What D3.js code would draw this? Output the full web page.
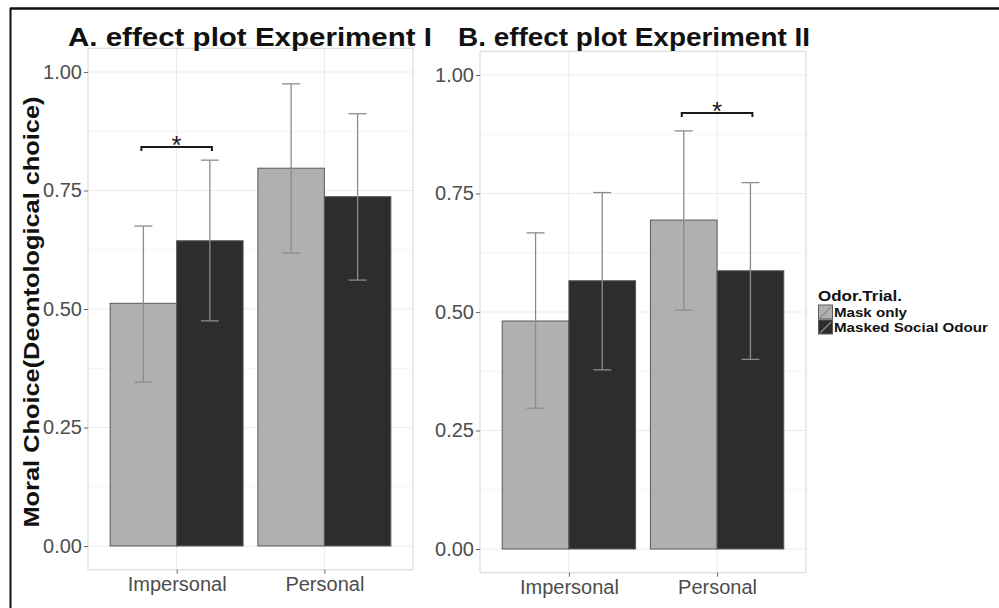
<!doctype html>
<html>
<head>
	<meta charset="utf-8">
	<script src="https://d3js.org/d3.v7.min.js"></script>
	<style>
		body { margin: 0; background: #fff; }
		text { font-family: "Liberation Sans", Arial, Helvetica, sans-serif; }
	</style>
</head>
<body>
	<div id="chart"></div>
	<script>
		// categories and series
		const categories = ["Impersonal", "Personal"];
		const series = ["Mask only", "Masked Social Odour"];
		const seriesFill = ["#b0b0b0", "#2d2d2d"];
		const yTicks = [0, 0.25, 0.5, 0.75, 1];
		const yMinor = [0.125, 0.375, 0.625, 0.875];

		// Experiment I (means, lower, upper)
		const exp1MaskOnly = [0.512, 0.797];
		const exp1MaskOnlyLo = [0.346, 0.618];
		const exp1MaskOnlyHi = [0.675, 0.975];
		const exp1Social = [0.644, 0.737];
		const exp1SocialLo = [0.475, 0.561];
		const exp1SocialHi = [0.814, 0.912];

		// Experiment II
		const exp2MaskOnly = [0.481, 0.694];
		const exp2MaskOnlyLo = [0.297, 0.504];
		const exp2MaskOnlyHi = [0.667, 0.882];
		const exp2Social = [0.566, 0.587];
		const exp2SocialLo = [0.378, 0.400];
		const exp2SocialHi = [0.752, 0.773];

		// significance brackets: category, height
		const exp1Sig = ["Impersonal", 0.842];
		const exp2Sig = ["Personal", 0.920];

		const width = 999, height = 608;
		const svg = d3.select("#chart").append("svg")
			.attr("width", width)
			.attr("height", height);

		// outer frame (top and left only visible)
		svg.append("line").attr("x1", 10).attr("x2", width).attr("y1", 8.5).attr("y2", 8.5)
			.attr("stroke", "#111").attr("stroke-width", 2.5);
		svg.append("line").attr("x1", 10.5).attr("x2", 10.5).attr("y1", 8).attr("y2", height)
			.attr("stroke", "#111").attr("stroke-width", 2);

		function toRows(means, lo, hi) {
			return categories.map((c, i) => ({ cat: c, mean: means[i], lo: lo[i], hi: hi[i] }));
		}

		function drawPanel(opt) {
			const g = svg.append("g");
			const y = d3.scaleLinear().domain([-0.05, 1.05]).range([opt.y0 + 0.05 * opt.unit, opt.y0 - 1.05 * opt.unit]);
			const x = d3.scalePoint().domain(categories).range([opt.left, opt.right]).padding(0.6);
			const step = x.step();
			const sub = d3.scaleBand().domain(series).range([-0.45 * step, 0.45 * step]);
			const top = y(1.05), bottom = y(-0.05);

			// grid
			g.selectAll(".minor").data(yMinor).join("line")
				.attr("x1", opt.left).attr("x2", opt.right)
				.attr("y1", d => y(d)).attr("y2", d => y(d))
				.attr("stroke", "#f4f4f4").attr("stroke-width", 1);
			g.selectAll(".major").data(yTicks).join("line")
				.attr("x1", opt.left).attr("x2", opt.right)
				.attr("y1", d => y(d)).attr("y2", d => y(d))
				.attr("stroke", "#ebebeb").attr("stroke-width", 1);
			g.selectAll(".vgrid").data(categories).join("line")
				.attr("x1", d => x(d)).attr("x2", d => x(d))
				.attr("y1", top).attr("y2", bottom)
				.attr("stroke", "#ebebeb").attr("stroke-width", 1);

			// bars
			opt.data.forEach((rows, si) => {
				g.selectAll(".bar" + si).data(rows).join("rect")
					.attr("x", d => x(d.cat) + sub(series[si]))
					.attr("width", sub.bandwidth())
					.attr("y", d => y(d.mean))
					.attr("height", d => y(0) - y(d.mean))
					.attr("fill", seriesFill[si])
					.attr("stroke", "#5a5a5a").attr("stroke-width", 1);
			});

			// error bars
			opt.data.forEach((rows, si) => {
				const eg = g.append("g").attr("stroke", "#8c8c8c").attr("stroke-width", 1.3).attr("fill", "none");
				rows.forEach(d => {
					const cx = x(d.cat) + sub(series[si]) + sub.bandwidth() / 2;
					eg.append("line").attr("x1", cx).attr("x2", cx).attr("y1", y(d.lo)).attr("y2", y(d.hi));
					eg.append("line").attr("x1", cx - 9).attr("x2", cx + 9).attr("y1", y(d.hi)).attr("y2", y(d.hi));
					eg.append("line").attr("x1", cx - 9).attr("x2", cx + 9).attr("y1", y(d.lo)).attr("y2", y(d.lo));
				});
			});

			// panel border
			g.append("rect").attr("x", opt.left).attr("y", top)
				.attr("width", opt.right - opt.left).attr("height", bottom - top)
				.attr("fill", "none").attr("stroke", "#dcdcdc").attr("stroke-width", 1.2);

			// y axis
			const ya = g.append("g").attr("transform", `translate(${opt.left},0)`)
				.call(d3.axisLeft(y).tickValues(yTicks).tickFormat(d3.format(".2f")).tickSize(4).tickPadding(2));
			ya.select(".domain").remove();
			ya.selectAll(".tick line").attr("stroke", "#666");
			ya.selectAll(".tick text").attr("fill", "#4d4d4d").attr("font-size", 20)
				.attr("font-family", "Liberation Sans, Arial, sans-serif");

			// x axis
			const xa = g.append("g").attr("transform", `translate(0,${bottom})`)
				.call(d3.axisBottom(x).tickSize(4).tickPadding(3));
			xa.select(".domain").remove();
			xa.selectAll(".tick line").attr("stroke", "#666");
			xa.selectAll(".tick text").attr("fill", "#4d4d4d").attr("font-size", 20)
				.attr("font-family", "Liberation Sans, Arial, sans-serif");

			// significance bracket
			const sx = x(opt.sig[0]);
			const bx1 = sx + sub(series[0]) + sub.bandwidth() / 2 - 2;
			const bx2 = sx + sub(series[1]) + sub.bandwidth() / 2 + 2;
			const by = y(opt.sig[1]);
			g.append("path")
				.attr("d", `M${bx1},${by + 4}L${bx1},${by}L${bx2},${by}L${bx2},${by + 4}`)
				.attr("fill", "none").attr("stroke", "#1a1a1a").attr("stroke-width", 2);
			g.append("text").attr("x", (bx1 + bx2) / 2).attr("y", by + 7)
				.attr("text-anchor", "middle").attr("font-size", 26).attr("fill", "#1a1a1a")
				.text("*");

			// title
			g.append("text").attr("x", opt.titleX).attr("y", 46)
				.attr("font-size", 26).attr("font-weight", "bold").attr("fill", "#111")
				.attr("textLength", opt.titleW).attr("lengthAdjust", "spacingAndGlyphs")
				.text(opt.title);
		}

		drawPanel({
			left: 88, right: 413, y0: 546, unit: 474,
			data: [toRows(exp1MaskOnly, exp1MaskOnlyLo, exp1MaskOnlyHi), toRows(exp1Social, exp1SocialLo, exp1SocialHi)],
			sig: exp1Sig, title: "A. effect plot Experiment I", titleX: 68, titleW: 364
		});
		drawPanel({
			left: 480, right: 806, y0: 549, unit: 474,
			data: [toRows(exp2MaskOnly, exp2MaskOnlyLo, exp2MaskOnlyHi), toRows(exp2Social, exp2SocialLo, exp2SocialHi)],
			sig: exp2Sig, title: "B. effect plot Experiment II", titleX: 458, titleW: 352
		});

		// y axis title
		svg.append("text")
			.attr("transform", "translate(39,312) rotate(-90)")
			.attr("text-anchor", "middle")
			.attr("font-size", 22).attr("font-weight", "bold").attr("fill", "#111")
			.attr("textLength", 431).attr("lengthAdjust", "spacingAndGlyphs")
			.text("Moral Choice(Deontological choice)");

		// legend
		const legendW = [73, 154];
		const lg = svg.append("g").attr("transform", "translate(818,0)");
		lg.append("text").attr("x", 0).attr("y", 301)
			.attr("font-size", 14).attr("font-weight", "bold").attr("fill", "#111")
			.attr("textLength", 84).attr("lengthAdjust", "spacingAndGlyphs")
			.text("Odor.Trial.");
		series.forEach((s, i) => {
			const ky = 305 + i * 15;
			lg.append("rect").attr("x", 0.5).attr("y", ky).attr("width", 14).attr("height", 14)
				.attr("fill", seriesFill[i]).attr("stroke", "#5a5a5a").attr("stroke-width", 1);
			lg.append("line").attr("x1", 2).attr("y1", ky + 13).attr("x2", 13).attr("y2", ky + 2)
				.attr("stroke", "#8c8c8c").attr("stroke-width", 1.2);
			lg.append("text").attr("x", 16).attr("y", ky + 12)
				.attr("font-size", 13).attr("font-weight", "bold").attr("fill", "#111")
				.attr("textLength", legendW[i]).attr("lengthAdjust", "spacingAndGlyphs")
				.text(s);
		});
	</script>
</body>
</html>
